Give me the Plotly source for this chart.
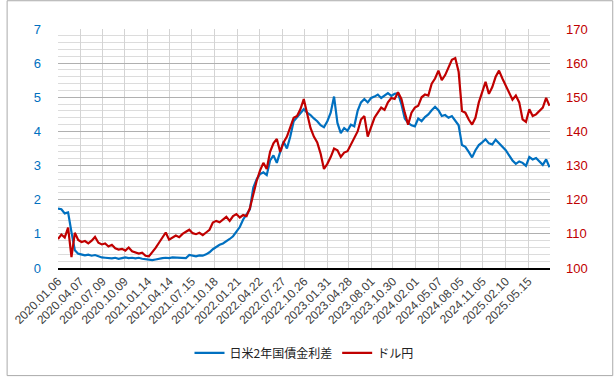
import pandas as pd
import plotly.graph_objects as go

# ---- data (biweekly samples) ----
start_date = "2020-01-06"
n_points = 147
dates = pd.date_range(start_date, periods=n_points, freq="14D")

spread = [
    1.74, 1.72, 1.60, 1.63, 1.05, 0.52, 0.42, 0.40, 0.37, 0.39,
    0.36, 0.38, 0.34, 0.31, 0.30, 0.29, 0.28, 0.30, 0.27, 0.29,
    0.31, 0.29, 0.30, 0.28, 0.30, 0.27, 0.26, 0.24, 0.23, 0.25,
    0.28, 0.29, 0.30, 0.29, 0.31, 0.30, 0.29, 0.30, 0.29, 0.38,
    0.36, 0.34, 0.37, 0.36, 0.40, 0.46, 0.55, 0.62, 0.68, 0.72,
    0.78, 0.85, 0.93, 1.05, 1.20, 1.42, 1.58, 1.72, 2.35, 2.60,
    2.75, 2.80, 2.72, 3.15, 3.30, 3.08, 3.40, 3.70, 3.50, 3.85,
    4.30, 4.42, 4.55, 4.65, 4.55, 4.48, 4.38, 4.30, 4.18, 4.12,
    4.30, 4.55, 5.02, 4.25, 3.95, 4.10, 4.02, 4.20, 4.15, 4.60,
    4.85, 4.95, 4.85, 4.98, 5.02, 5.08, 4.98, 5.06, 5.12, 5.04,
    5.10, 5.12, 4.80, 4.38, 4.25, 4.18, 4.15, 4.38, 4.30, 4.42,
    4.50, 4.62, 4.72, 4.62, 4.45, 4.48, 4.40, 4.45, 4.30, 4.18,
    3.60, 3.55, 3.40, 3.24, 3.45, 3.60, 3.68, 3.77, 3.65, 3.62,
    3.76, 3.65, 3.55, 3.45, 3.30, 3.15, 3.05, 3.12, 3.08, 2.99,
    3.25, 3.18, 3.22, 3.12, 3.02, 3.18, 2.95,
]

usdjpy = [
    108.5, 109.8, 108.9, 111.8, 103.2, 110.3, 108.2, 107.6, 107.9, 107.2,
    108.0, 109.1, 107.4, 106.9, 107.2, 106.3, 106.8, 105.8, 105.4, 105.6,
    105.1, 106.0, 104.9, 104.6, 104.2, 104.5, 103.6, 103.4, 104.6, 105.9,
    107.4, 108.8, 110.4, 108.3, 108.8, 109.5, 109.0, 110.0, 110.6, 111.2,
    110.2, 109.9, 110.3, 109.6, 110.4, 111.2, 113.3, 113.8, 113.4, 114.2,
    115.0, 113.8, 115.2, 115.8, 114.8, 115.5, 115.2, 117.5, 122.0, 125.5,
    128.5, 130.8, 129.0, 134.0, 136.5, 137.8, 134.0, 136.8, 138.5, 141.5,
    144.0, 144.5, 146.5, 149.5, 145.5, 141.0, 138.5, 136.8, 133.5, 129.0,
    130.5, 132.5, 135.0, 134.5, 132.5, 133.8, 134.2, 136.2, 137.8, 140.0,
    143.5, 144.5, 138.5, 141.5, 144.0, 145.5, 147.0, 146.3, 148.5, 149.8,
    149.5, 151.5, 149.5, 145.5, 142.0, 145.5, 147.0, 147.5, 150.0, 150.8,
    150.5, 154.0, 155.5, 157.8, 155.0, 156.5, 159.0, 161.0, 161.5, 157.5,
    146.0, 145.5, 143.5, 142.0, 144.0, 148.5, 151.5, 154.5, 151.0, 153.0,
    156.0, 157.8, 155.5, 153.5, 151.0, 149.3, 150.5, 148.5, 143.5, 142.8,
    146.5, 144.5, 145.0, 146.0, 147.0, 149.8, 147.5,
]

tick_labels = [
    "2020.01.06", "2020.04.07", "2020.07.09", "2020.10.09", "2021.01.14",
    "2021.04.14", "2021.07.15", "2021.10.18", "2022.01.21", "2022.04.22",
    "2022.07.27", "2022.10.26", "2023.01.31", "2023.04.28", "2023.08.01",
    "2023.10.30", "2024.02.01", "2024.05.07", "2024.08.05", "2024.11.05",
    "2025.02.10", "2025.05.15",
]
x_end = "2025-08-13"

name_spread = "日米2年国債金利差"
name_usdjpy = "ドル円"

BLUE = "#0070C0"
RED = "#C00000"

tick_vals = [pd.Timestamp(t.replace(".", "-")) for t in tick_labels]

fig = go.Figure()
fig.add_trace(go.Scatter(x=dates, y=spread, name=name_spread, mode="lines",
                         line=dict(color=BLUE, width=2.2), yaxis="y"))
fig.add_trace(go.Scatter(x=dates, y=usdjpy, name=name_usdjpy, mode="lines",
                         line=dict(color=RED, width=2.2), yaxis="y2"))

W, H = 615, 380
L, R, T, B = 52, 65, 29, 110
pw, ph = W - L - R, H - T - B

fig.update_layout(
    width=W, height=H,
    margin=dict(l=L, r=R, t=T, b=B),
    paper_bgcolor="white", plot_bgcolor="white",
    font=dict(family="Liberation Sans, Arial, Noto Sans CJK JP", size=12, color="#333"),
    showlegend=True,
    legend=dict(orientation="h", x=0.5, xanchor="center", y=-0.355, yanchor="middle",
                font=dict(family="Noto Sans CJK JP, Liberation Sans", size=12, color="#222"),
                itemwidth=30, traceorder="normal"),
    xaxis=dict(
        type="date", range=[dates[0], x_end],
        tickmode="array", tickvals=tick_vals, ticktext=tick_labels,
        tickangle=-45, showgrid=True, gridcolor="#d4d4d4", gridwidth=1,
        showline=True, linecolor="#000", linewidth=1.5, ticks="",
        tickfont=dict(size=12, color="#404040"), zeroline=False,
    ),
    yaxis=dict(
        range=[0, 7], dtick=1, showgrid=True, gridcolor="#b0b0b0", gridwidth=1,
        minor=dict(dtick=0.2, showgrid=True, gridcolor="#dcdcdc", gridwidth=1),
        tickfont=dict(size=13, color=BLUE), ticks="", zeroline=False,
        ticklabelstandoff=16, showline=False,
    ),
    yaxis2=dict(
        range=[100, 170], dtick=10, overlaying="y", side="right", showgrid=False,
        tickfont=dict(size=13, color=RED), ticks="", zeroline=False,
        ticklabelstandoff=15, showline=False,
    ),
    shapes=[dict(type="rect", xref="paper", yref="paper",
                 x0=-L / pw + 0.5 / pw, x1=1 + (R - 1.5) / pw,
                 y0=-(B - 1.5) / ph, y1=1 + (T - 0.5) / ph,
                 line=dict(color="#aaaaaa", width=1), fillcolor="rgba(0,0,0,0)",
                 layer="below")],
)

fig.write_html("out.html")
